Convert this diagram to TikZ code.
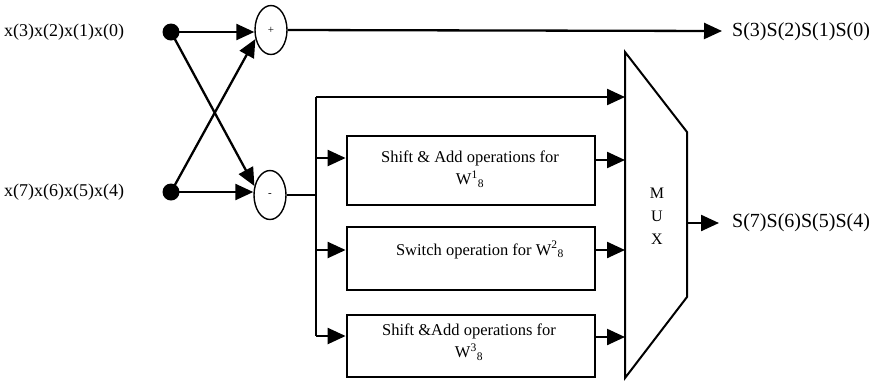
\documentclass[tikz,border=0pt]{standalone}
\usepackage{fontspec}
\setmainfont{Liberation Serif}
\usetikzlibrary{arrows.meta,shapes.geometric}
\newcommand{\twid}[1]{W\textsuperscript{#1}\textsubscript{8}}
\begin{document}
\begin{tikzpicture}[x=1pt,y=-1pt,
  wire/.style={line width=2.3pt},
  arr/.style={wire,-{Triangle[length=18pt,width=16pt]}},
  dot/.style={circle,fill=black,inner sep=0pt,minimum size=17pt},
  op/.style={ellipse,draw,line width=1.4pt,inner sep=0pt,minimum width=32pt,minimum height=49pt,font=\fontsize{11}{12}\selectfont},
  block/.style={draw,line width=2.8pt,minimum width=248pt,inner sep=0pt},
  btext/.style={font=\fontsize{16.5}{20}\selectfont,align=center},
  lbl/.style={font=\fontsize{18}{22}\selectfont,inner sep=0pt},
  slbl/.style={font=\fontsize{20}{22}\selectfont,inner sep=0pt}]
\useasboundingbox (0,0) rectangle (880,384);

% inputs
\node[lbl,anchor=west] (xa) at (4,32) {x(3)x(2)x(1)x(0)};
\node[lbl,anchor=west] (xb) at (4,192) {x(7)x(6)x(5)x(4)};
\node[dot] (da) at (171,32) {};
\node[dot] (db) at (171,192) {};

% butterfly
\node[op] (add) at (271,30) {+};
\node[op] (sub) at (270,195) {-};
\draw[arr] (da.center) -- (add.west |- da);
\draw[arr] (db.center) -- (sub.west |- db);
\draw[arr] (da.center) -- (sub.150);
\draw[arr] (db.center) -- (add.210);

% upper output
\coordinate (outa) at (722,31);
\draw[arr] (add.east) -- (outa);
\node[slbl,anchor=west] (sa) at (732,32) {S(3)S(2)S(1)S(0)};

% bus
\coordinate (busj) at (316,195);
\coordinate (bust) at (316,97);
\coordinate (busb) at (316,336);
\draw[wire] (sub.east) -- (busj);
\draw[wire] (bust) -- (busb);

% blocks
\node[block,minimum height=69pt] (b1) at (471,170.5) {};
\node[block,minimum height=63pt] (b2) at (471,258.5) {};
\node[block,minimum height=62pt] (b3) at (471,346) {};
\node[btext] (t1) at (470,169) {Shift \& Add operations for\\[2pt]\twid{1}};
\node[btext] (t2) at (480,250) {Switch operation for \twid{2}};
\node[btext] (t3) at (469,342) {Shift \&Add operations for\\[2pt]\twid{3}};

% multiplexer
\coordinate (m1) at (625,52);
\coordinate (m2) at (687,132);
\coordinate (m3) at (687,297);
\coordinate (m4) at (625,378);
\draw[line width=2pt,line join=miter] (m1) -- (m2) -- (m3) -- (m4) -- cycle;
\node[font=\fontsize{16}{23}\selectfont,align=center] (mux) at (657,216) {M\\U\\X};

\draw[arr] (bust) -- (bust -| m1);
\coordinate (bi1) at (316,158);
\coordinate (bi2) at (316,250);
\coordinate (bi3) at (316,336);
\draw[arr] (bi1) -- (b1.west |- bi1);
\draw[arr] (bi2) -- (b2.west |- bi2);
\draw[arr] (bi3) -- (b3.west |- bi3);
\coordinate (mi1) at (625,160);
\coordinate (mi2) at (625,250);
\coordinate (mi3) at (625,337);
\draw[arr] (b1.east |- mi1) -- (mi1);
\draw[arr] (b2.east |- mi2) -- (mi2);
\draw[arr] (b3.east |- mi3) -- (mi3);

% lower output
\coordinate (mo) at (687,223);
\coordinate (outb) at (719,223);
\draw[arr] (mo) -- (outb);
\node[slbl,anchor=west] (sb) at (732,223) {S(7)S(6)S(5)S(4)};
\end{tikzpicture}
\end{document}
